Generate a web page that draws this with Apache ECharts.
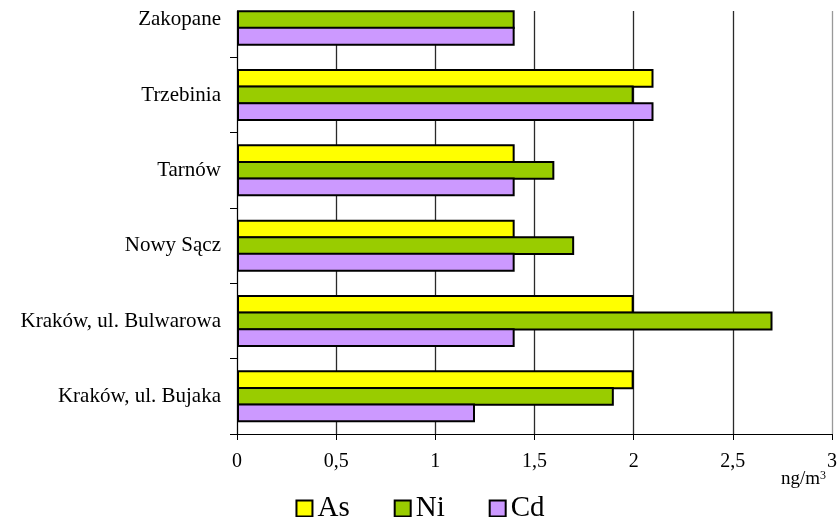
<!DOCTYPE html>
<html>
<head>
<meta charset="utf-8">
<script src="https://cdn.jsdelivr.net/npm/echarts@6/dist/echarts.min.js"></script>
<style>
  html, body { margin: 0; padding: 0; background: #fff; overflow: hidden; }
  /* the canvas starts 18px above the window so the top band is partly clipped */
  #chart { width: 840px; height: 535px; margin-top: -18px; }
</style>
</head>
<body>
<div id="chart"></div>
<script>
// Stations, listed bottom to top along the category axis
const stations = [
  'Kraków, ul. Bujaka',
  'Kraków, ul. Bulwarowa',
  'Nowy Sącz',
  'Tarnów',
  'Trzebinia',
  'Zakopane'
];

// Mean concentrations, ng/m3
const asValues = [2.0, 2.0, 1.4, 1.4, 2.1, null];
const niValues = [1.9, 2.7, 1.7, 1.6, 2.0, 1.4];
const cdValues = [1.2, 1.4, 1.4, 1.4, 2.1, 1.4];

const serif = '"Liberation Serif", "Times New Roman", serif';
const chart = echarts.init(document.getElementById('chart'), null, { renderer: 'canvas' });

const barStyle = (color) => ({ color: color, borderColor: '#000', borderWidth: 2 });
const barCommon = { type: 'bar', barGap: '-12%', barCategoryGap: '31%' };

chart.setOption({
  backgroundColor: '#fff',
  animation: false,
  grid: { left: 237, width: 598, top: 0, height: 452 },
  legend: {
    data: ['As', 'Ni', 'Cd'],
    top: 507,
    left: 'center',
    itemWidth: 16,
    itemHeight: 16,
    itemGap: 44,
    icon: 'rect',
    itemStyle: { borderColor: '#000', borderWidth: 2 },
    textStyle: { fontFamily: serif, fontSize: 29, color: '#000' }
  },
  xAxis: {
    type: 'value',
    min: 0,
    max: 3,
    interval: 0.5,
    axisLine: { show: true, lineStyle: { color: '#000', width: 1 } },
    axisTick: { show: true, length: 6, lineStyle: { color: '#000' } },
    axisLabel: {
      fontFamily: serif, fontSize: 20, color: '#000', margin: 18,
      formatter: (v) => String(v).replace('.', ',')
    },
    splitLine: {
      show: true,
      lineStyle: { color: ['#2a2a2a', '#2a2a2a', '#2a2a2a', '#2a2a2a', '#2a2a2a', '#2a2a2a', '#999'], width: 1.3 }
    }
  },
  yAxis: {
    type: 'category',
    data: stations,
    axisLine: { show: true, lineStyle: { color: '#000', width: 1 } },
    axisTick: { show: true, length: 7, lineStyle: { color: '#000' } },
    axisLabel: { fontFamily: serif, fontSize: 21, color: '#000', margin: 16, padding: [5, 0, 0, 0] }
  },
  graphic: [
    {
      // blank strip above the plot frame
      type: 'rect',
      left: 228, top: 0,
      shape: { width: 612, height: 29 },
      style: { fill: '#fff' },
      z: 1
    },
    {
      type: 'text',
      left: 781, top: 488,
      style: {
        text: '{b|ng/m}{s|3}',
        rich: {
          b: { fontFamily: serif, fontSize: 19, fill: '#000', verticalAlign: 'bottom' },
          s: { fontFamily: serif, fontSize: 12, fill: '#000', verticalAlign: 'top', padding: [0, 0, 7, 0] }
        }
      },
      z: 100
    }
  ],
  series: [
    Object.assign({ name: 'As', data: asValues, itemStyle: barStyle('#FFFF00'), z: 3 }, barCommon),
    Object.assign({ name: 'Ni', data: niValues, itemStyle: barStyle('#99CC00'), z: 3 }, barCommon),
    Object.assign({ name: 'Cd', data: cdValues, itemStyle: barStyle('#CC99FF'), z: 3 }, barCommon)
  ]
});
</script>
</body>
</html>
